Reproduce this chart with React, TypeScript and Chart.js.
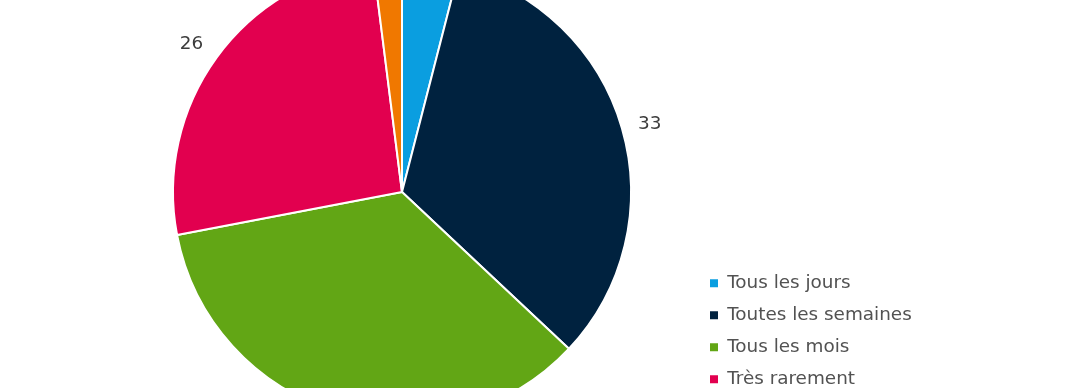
import React, { useEffect, useRef } from "react";
import { Chart, registerables } from "chart.js";

Chart.register(...registerables);

const categories = ["Tous les jours", "Toutes les semaines", "Tous les mois", "Très rarement", "Jamais"];
const values = [4, 33, 35, 26, 2];
const colors = ["#0a9ee0", "#00223f", "#62a615", "#e2004f", "#f07800"];

const FONT = "'DejaVu Sans', sans-serif";
const FONT_SIZE = 18.4;
const ITEM_SPACING = 32;
const CENTER_X = 402;
const LEGEND_BOX_X = 710;

const outsideLabels = {
  id: "outsideLabels",
  afterDatasetsDraw(chart: any) {
    const ctx = chart.ctx;
    const meta = chart.getDatasetMeta(0);
    const data = chart.data.datasets[0].data as number[];
    ctx.save();
    ctx.font = `${FONT_SIZE}px ${FONT}`;
    ctx.fillStyle = "#3d3d3d";
    ctx.textAlign = "center";
    ctx.textBaseline = "middle";
    meta.data.forEach((arc: any, i: number) => {
      const p = arc.getProps(["x", "y", "startAngle", "endAngle", "outerRadius"], true);
      const mid = (p.startAngle + p.endAngle) / 2;
      const r = p.outerRadius + 30;
      ctx.fillText(String(data[i]), p.x + Math.cos(mid) * r - 1, p.y + Math.sin(mid) * r + 4);
    });
    ctx.restore();
  },
};

export default function App() {
  const ref = useRef<HTMLCanvasElement | null>(null);
  useEffect(() => {
    if (!ref.current) return;
    const pad = ITEM_SPACING - Math.max(FONT_SIZE, 8);
    const legendLeft = LEGEND_BOX_X - pad;
    const chart = new Chart(ref.current, {
      type: "pie",
      data: {
        labels: categories,
        datasets: [
          {
            data: values,
            backgroundColor: colors,
            borderColor: "#ffffff",
            borderWidth: 2,
            clip: false,
          } as any,
        ],
      },
      options: {
        responsive: false,
        animation: false,
        devicePixelRatio: 1,
        radius: 229,
        layout: { padding: { left: 2 * CENTER_X - legendLeft, right: 100, top: 0, bottom: 0 } },
        plugins: {
          tooltip: { enabled: false },
          legend: {
            position: "right",
            align: "end",
            labels: {
              boxWidth: 8,
              boxHeight: 8,
              padding: pad,
              color: "#525252",
              font: { size: FONT_SIZE, family: FONT },
              generateLabels: (c: any) =>
                (Chart as any).overrides.doughnut.plugins.legend.labels
                  .generateLabels(c)
                  .map((l: any) => ({ ...l, lineWidth: 0 })),
            },
          },
        },
      } as any,
      plugins: [outsideLabels],
    });
    // place the legend so that its left edge sits at legendLeft
    const lw = (chart as any).legend.width;
    (chart.options as any).layout.padding.right = 1080 - legendLeft - lw;
    chart.update();
    return () => chart.destroy();
  }, []);
  return (
    <div
      style={{
        position: "absolute",
        left: 0,
        top: 0,
        width: 1080,
        height: 388,
        overflow: "hidden",
        background: "#ffffff",
      }}
    >
      <canvas
        ref={ref}
        width={1080}
        height={484}
        style={{ position: "absolute", left: 0, top: -50, width: 1080, height: 484 }}
      />
    </div>
  );
}
